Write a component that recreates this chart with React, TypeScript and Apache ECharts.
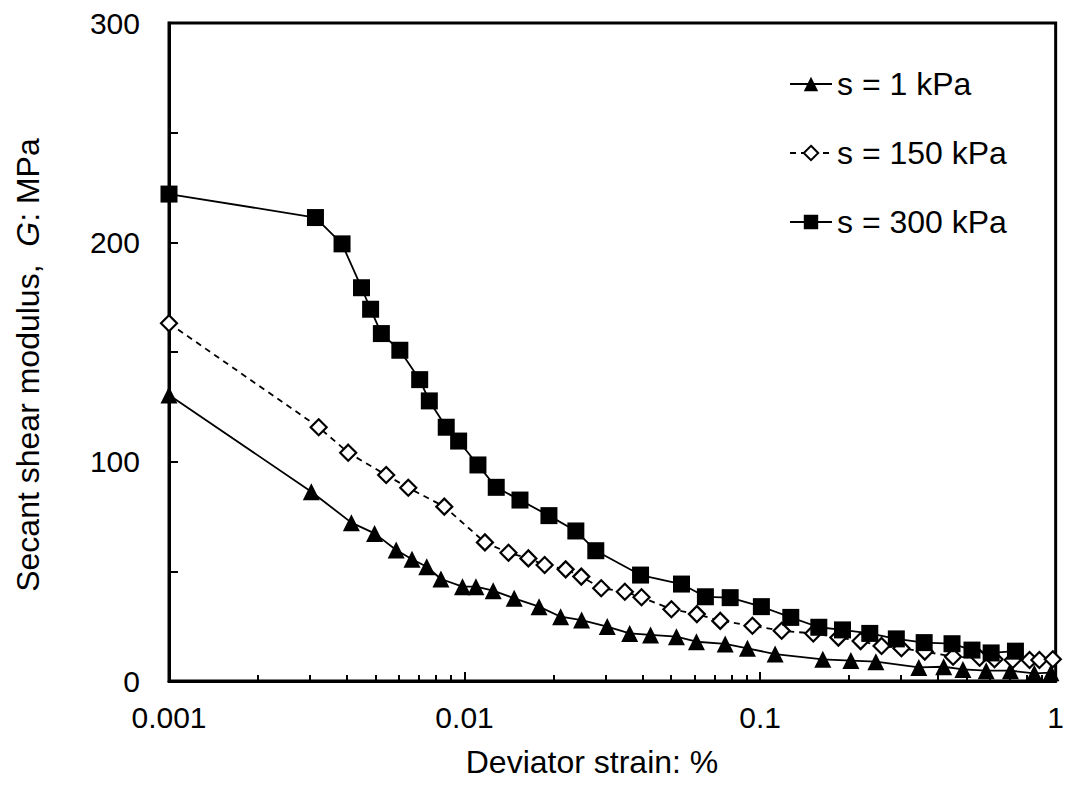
import React, { useEffect, useRef } from "react";
import * as echarts from "echarts";

const seriesNames = ["s = 1 kPa", "s = 150 kPa", "s = 300 kPa"];

const strain1 = [0.001, 0.00303, 0.00414, 0.00496, 0.00587, 0.00664, 0.00745, 0.00832, 0.00984, 0.01093, 0.0125, 0.01472, 0.01787, 0.02114, 0.0249, 0.0304, 0.0362, 0.0426, 0.0521, 0.0609, 0.0762, 0.0906, 0.1124, 0.163, 0.2028, 0.2464, 0.3443, 0.418, 0.4855, 0.582, 0.703, 0.847, 0.964];
const modulus1 = [130.4, 86.3, 72.2, 67.3, 59.7, 55.5, 52.1, 46.5, 43.0, 43.0, 41.2, 37.7, 33.9, 29.3, 27.8, 24.8, 21.7, 21.0, 20.2, 17.9, 16.9, 14.9, 12.3, 9.9, 9.3, 8.8, 6.2, 6.5, 5.3, 4.7, 4.7, 3.5, 3.8];

const strain150 = [0.001, 0.00321, 0.00404, 0.00543, 0.00645, 0.00854, 0.01172, 0.01408, 0.01644, 0.01866, 0.02198, 0.02483, 0.029, 0.03486, 0.0397, 0.0501, 0.0611, 0.0733, 0.0942, 0.1183, 0.1513, 0.184, 0.2188, 0.2576, 0.3007, 0.3607, 0.4497, 0.553, 0.621, 0.716, 0.816, 0.881, 0.978];
const modulus150 = [163.1, 115.7, 104.1, 93.9, 88.1, 79.5, 63.2, 58.5, 55.9, 52.9, 50.9, 47.6, 42.3, 40.7, 38.2, 32.7, 30.5, 27.4, 25.2, 22.9, 21.7, 19.8, 18.2, 16.0, 14.9, 13.4, 11.1, 10.6, 9.9, 9.6, 9.6, 9.6, 9.9];

const strain300 = [0.001, 0.00313, 0.00385, 0.00448, 0.00481, 0.00523, 0.00604, 0.00705, 0.0076, 0.00867, 0.00955, 0.0111, 0.0128, 0.0154, 0.0193, 0.0238, 0.0278, 0.0394, 0.0542, 0.0653, 0.0792, 0.101, 0.127, 0.158, 0.19, 0.235, 0.289, 0.359, 0.446, 0.521, 0.605, 0.731];
const modulus300 = [222, 211.3, 199.3, 179.3, 169.5, 158.4, 150.8, 137.4, 127.7, 115.7, 109.4, 98.5, 88.3, 82.5, 75.4, 68.4, 59.4, 48.3, 44.2, 38.4, 38.0, 33.9, 29.0, 24.5, 23.3, 21.7, 19.2, 17.5, 17.0, 14.1, 12.8, 13.6];

const xTickLabels = ["0.001", "0.01", "0.1", "1"];
const xMinorTicks = [0.002, 0.003, 0.004, 0.005, 0.006, 0.007, 0.008, 0.009, 0.02, 0.03, 0.04, 0.05, 0.06, 0.07, 0.08, 0.09, 0.2, 0.3, 0.4, 0.5, 0.6, 0.7, 0.8, 0.9];
const yTickLabels = ["0", "100", "200", "300"];

const xTitle = "Deviator strain: %";
const yTitleParts = ["Secant shear modulus,  ", "G", ": MPa"];

const FONT = "'Liberation Sans', Arial, sans-serif";

function pairs(xs: number[], ys: number[]) {
  return xs.map((x, i) => [x, ys[i]]);
}

export default function App() {
  const ref = useRef<HTMLDivElement>(null);
  useEffect(() => {
    if (!ref.current) return;
    const chart = echarts.init(ref.current, null, { renderer: "svg" });
    const option: any = {
      animation: false,
      backgroundColor: "#fff",
      textStyle: { fontFamily: FONT, color: "#000" },
      grid: {
        left: 169,
        right: 9,
        top: 23,
        bottom: 115,
        show: true,
        borderColor: "#000",
        borderWidth: 3,
        containLabel: false,
      },
      legend: {
        orient: "vertical",
        left: 784,
        top: 63,
        itemWidth: 42,
        itemHeight: 18,
        itemGap: 37,
        data: seriesNames,
        textStyle: { fontSize: 32, color: "#000", fontFamily: FONT },
      },
      xAxis: [
        {
          type: "log",
          logBase: 10,
          min: 0.001,
          max: 1,
          position: "bottom",
          axisLine: { show: true, lineStyle: { color: "#000", width: 3 } },
          axisTick: { show: true, inside: true, length: 9, lineStyle: { color: "#000", width: 2 } },
          axisLabel: {
            fontSize: 30,
            color: "#000",
            margin: 21,
            fontFamily: FONT,
            formatter: (v: number) => xTickLabels[Math.round(Math.log10(v)) + 3] ?? "",
          },
          splitLine: { show: false },
        },
        {
          type: "log",
          logBase: 10,
          min: 0.001,
          max: 1,
          position: "bottom",
          axisLine: { show: false },
          axisTick: {
            show: true,
            inside: true,
            length: 6,
            customValues: xMinorTicks,
            lineStyle: { color: "#000", width: 2 },
          },
          axisLabel: { show: false },
          splitLine: { show: false },
        },
      ],
      yAxis: {
        type: "value",
        min: 0,
        max: 300,
        interval: 50,
        axisLine: { show: true, lineStyle: { color: "#000", width: 3 } },
        axisTick: { show: true, inside: true, length: 9, lineStyle: { color: "#000", width: 2 } },
        axisLabel: {
          fontSize: 30,
          color: "#000",
          margin: 29,
          fontFamily: FONT,
          formatter: (v: number) => (v % 100 === 0 ? yTickLabels[v / 100] : ""),
        },
        splitLine: { show: false },
      },
      series: [
        {
          name: seriesNames[0],
          type: "line",
          xAxisIndex: 0,
          data: pairs(strain1, modulus1),
          symbol: "triangle",
          symbolSize: 17,
          lineStyle: { color: "#000", width: 1.8 },
          itemStyle: { color: "#000" },
          z: 3,
        },
        {
          name: seriesNames[1],
          type: "line",
          xAxisIndex: 0,
          data: pairs(strain150, modulus150),
          symbol: "diamond",
          symbolSize: 16,
          lineStyle: { color: "#000", width: 1.8, type: [6, 5] },
          itemStyle: { color: "#fff", borderColor: "#000", borderWidth: 2.2 },
          z: 4,
        },
        {
          name: seriesNames[2],
          type: "line",
          xAxisIndex: 0,
          data: pairs(strain300, modulus300),
          symbol: "rect",
          symbolSize: 17,
          lineStyle: { color: "#000", width: 1.8 },
          itemStyle: { color: "#000" },
          z: 5,
        },
      ],
      graphic: [
        {
          type: "text",
          x: 592,
          y: 762,
          style: {
            text: xTitle,
            font: `32px ${FONT}`,
            fill: "#000",
            align: "center",
            verticalAlign: "middle",
          },
        },
        {
          type: "text",
          x: 28,
          y: 365,
          rotation: Math.PI / 2,
          style: {
            text: `${yTitleParts[0]}{i|${yTitleParts[1]}}${yTitleParts[2]}`,
            font: `32px ${FONT}`,
            fontSize: 32,
            fontFamily: FONT,
            fill: "#000",
            align: "center",
            verticalAlign: "middle",
            rich: {
              i: { fontStyle: "italic", fontSize: 32, fontFamily: FONT, fill: "#000" },
            },
          },
        },
      ],
    };
    chart.setOption(option);
    return () => chart.dispose();
  }, []);
  return (
    <div
      ref={ref}
      style={{ position: "fixed", left: 0, top: 0, width: 1067, height: 796 }}
    />
  );
}
